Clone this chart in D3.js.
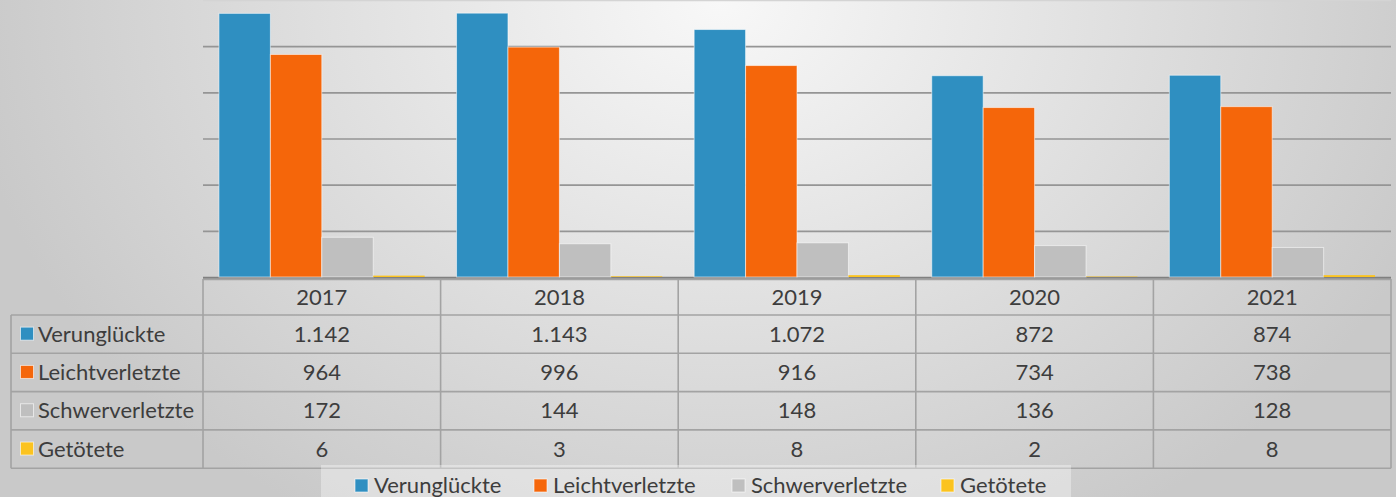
<!DOCTYPE html>
<html>
<head>
<meta charset="utf-8">
<script src="https://cdn.jsdelivr.net/npm/d3@7"></script>
<style>
  body { margin: 0; overflow: hidden; }
  text { font-family: Lato, "Open Sans", sans-serif; fill: #3d3d3d; }
</style>
</head>
<body>
<script>
// data
var years = ["2017", "2018", "2019", "2020", "2021"];
var seriesNames = ["Verunglückte", "Leichtverletzte", "Schwerverletzte", "Getötete"];
var verunglueckte = [1142, 1143, 1072, 872, 874];
var leichtverletzte = [964, 996, 916, 734, 738];
var schwerverletzte = [172, 144, 148, 136, 128];
var getoetete = [6, 3, 8, 2, 8];
var yTicks = [0, 200, 400, 600, 800, 1000, 1200];

var colors = ["#2f8fc1", "#f5660a", "#bfbfbf", "#fbc31f"];
var values = [verunglueckte, leichtverletzte, schwerverletzte, getoetete];

var W = 1396, H = 497;
var fmt = d3.formatLocale({decimal: ",", thousands: ".", grouping: [3], currency: ["", "€"]}).format(",d");

var svg = d3.select("body").append("svg")
            .attr("width", W)
            .attr("height", H);

// background: soft radial gradient, light at top centre
var defs = svg.append("defs");
var grad = defs.append("radialGradient")
               .attr("id", "bg")
               .attr("gradientUnits", "userSpaceOnUse")
               .attr("cx", 720).attr("cy", 0).attr("r", 760)
               .attr("gradientTransform", "translate(720,0) scale(1,0.8) translate(-720,0)");
grad.append("stop").attr("offset", 0).attr("stop-color", "#f8f8f8");
grad.append("stop").attr("offset", 1).attr("stop-color", "#c9c9c9");

svg.append("rect").attr("width", W).attr("height", H).attr("fill", "url(#bg)");

var plotLeft = 203, plotRight = 1391, plotTop = 0, base = 277;

var x = d3.scaleBand().domain(years).range([plotLeft, plotRight]);
var x1 = d3.scaleBand().domain(seriesNames).range([0, x.bandwidth()]).paddingOuter(0.31);
var y = d3.scaleLinear().domain([0, 1200]).range([base, plotTop]);

// gridlines
svg.append("g").selectAll("line")
   .data(yTicks.filter(function(d) { return d > 0; }))
   .enter().append("line")
   .attr("x1", plotLeft).attr("x2", plotRight)
   .attr("y1", function(d) { return y(d) + 0.5; })
   .attr("y2", function(d) { return y(d) + 0.5; })
   .attr("stroke", function(d) { return d === 1200 ? "#d4d4d4" : "#959595"; })
   .attr("stroke-width", 1.6);

// baseline (drawn before the bars so the tiny Getötete bars stay visible)
svg.append("line")
   .attr("x1", plotLeft).attr("x2", plotRight)
   .attr("y1", base + 0.8).attr("y2", base + 0.8)
   .attr("stroke", "#808080").attr("stroke-width", 2);

// bars
var groups = svg.append("g").selectAll("g")
                .data(years)
                .enter().append("g")
                .attr("transform", function(d) { return "translate(" + x(d) + ",0)"; });

groups.selectAll("rect")
      .data(function(d, i) {
        return seriesNames.map(function(s, j) { return {s: s, v: values[j][i], c: colors[j]}; });
      })
      .enter().append("rect")
      .attr("x", function(d) { return x1(d.s); })
      .attr("width", x1.bandwidth())
      .attr("y", function(d) { return y(d.v); })
      .attr("height", function(d) { return base - y(d.v); })
      .attr("fill", function(d) { return d.c; })
      .attr("stroke", function(d) { return d.s === "Getötete" ? "none" : "rgba(255,255,255,0.55)"; })
      .attr("stroke-width", 1);

// data table
var tableLeft = 11, headTop = 279, rowTop = 315, rowH = 38.3;
var rowsBottom = rowTop + rowH * 4;
var table = svg.append("g")
               .attr("stroke", "#a3a3a3")
               .attr("stroke-width", 1.6)
               .attr("fill", "none");

table.append("line").attr("x1", plotLeft).attr("x2", plotRight).attr("y1", headTop + 0.5).attr("y2", headTop + 0.5);
table.selectAll("line.h")
     .data(d3.range(5))
     .enter().append("line")
     .attr("x1", tableLeft).attr("x2", plotRight)
     .attr("y1", function(i) { return rowTop + i * rowH; })
     .attr("y2", function(i) { return rowTop + i * rowH; });
table.selectAll("line.v")
     .data(years.map(function(d) { return x(d); }).concat([plotRight]))
     .enter().append("line")
     .attr("x1", function(d) { return d; }).attr("x2", function(d) { return d; })
     .attr("y1", headTop).attr("y2", rowsBottom);
table.append("line")
     .attr("x1", tableLeft).attr("x2", tableLeft)
     .attr("y1", rowTop).attr("y2", rowsBottom);

// header years
svg.append("g").selectAll("text")
   .data(years)
   .enter().append("text")
   .attr("x", function(d) { return x(d) + x.bandwidth() / 2; })
   .attr("y", (headTop + rowTop) / 2)
   .attr("dy", "0.35em")
   .attr("text-anchor", "middle")
   .style("font-size", "22px")
   .text(function(d) { return d; });

// row labels with keys
var rows = svg.append("g").selectAll("g")
              .data(seriesNames)
              .enter().append("g")
              .attr("transform", function(d, i) { return "translate(0," + (rowTop + i * rowH) + ")"; });

rows.append("rect")
    .attr("x", 20.5).attr("y", rowH / 2 - 7)
    .attr("width", 13).attr("height", 13)
    .attr("fill", function(d, i) { return colors[i]; })
    .attr("stroke", "rgba(255,255,255,0.6)")
    .attr("stroke-width", 1);

rows.append("text")
    .attr("x", 38)
    .attr("y", rowH / 2)
    .attr("dy", "0.35em")
    .style("font-size", "22px")
    .text(function(d) { return d; });

rows.selectAll("text.val")
    .data(function(d, i) { return values[i]; })
    .enter().append("text")
    .attr("class", "val")
    .attr("x", function(d, j) { return x(years[j]) + x.bandwidth() / 2; })
    .attr("y", rowH / 2)
    .attr("dy", "0.35em")
    .attr("text-anchor", "middle")
    .style("font-size", "22px")
    .text(function(d) { return fmt(d); });

// legend
svg.append("rect")
   .attr("x", 321).attr("y", 465)
   .attr("width", 750).attr("height", 40)
   .attr("fill", "rgba(255,255,255,0.35)");

var legendX = [355, 534, 732, 941];
var legend = svg.append("g").selectAll("g")
                .data(seriesNames)
                .enter().append("g")
                .attr("transform", function(d, i) { return "translate(" + legendX[i] + ",479)"; });

legend.append("rect")
      .attr("width", 13).attr("height", 13)
      .attr("fill", function(d, i) { return colors[i]; })
      .attr("stroke", "rgba(255,255,255,0.6)")
      .attr("stroke-width", 1);

legend.append("text")
      .attr("x", 19)
      .attr("y", 6.5)
      .attr("dy", "0.35em")
      .style("font-size", "22px")
      .text(function(d) { return d; });
</script>
</body>
</html>
